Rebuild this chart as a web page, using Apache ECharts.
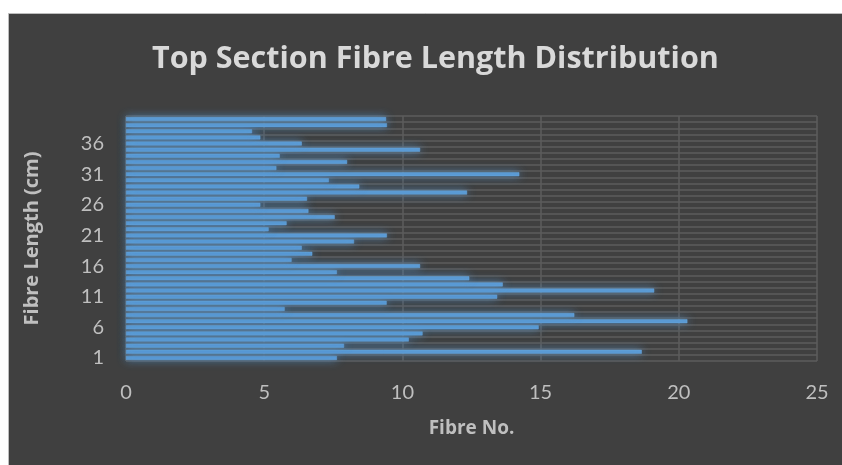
<!DOCTYPE html>
<html>
<head>
<meta charset="utf-8">
<script src="https://cdn.jsdelivr.net/npm/echarts@6/dist/echarts.min.js"></script>
<style>
  html, body { margin: 0; padding: 0; background: #ffffff; }
  #chart { width: 842px; height: 465px; }
</style>
</head>
<body>
<div id="chart"></div>
<script>
// Fibre lengths 1..40 cm (category axis)
const fibreLengths = Array.from({ length: 40 }, (_, i) => String(i + 1));

// Number of fibres counted at each length
const fibreCounts = [
  7.63, 18.66, 7.89, 10.23, 10.73, 14.93, 20.31, 16.22, 5.74, 9.43,
  13.43, 19.11, 13.63, 12.42, 7.63, 10.64, 5.99, 6.74, 6.36, 8.25,
  9.44, 5.16, 5.81, 7.55, 6.60, 4.86, 6.55, 12.34, 8.44, 7.34,
  14.23, 5.44, 8.00, 5.56, 10.64, 6.36, 4.86, 4.56, 9.44, 9.41
];

const titleText = 'Top Section Fibre Length Distribution';
const xAxisTitle = 'Fibre No.';
const yAxisTitle = 'Fibre Length (cm)';

const headFont = '"Open Sans", Lato, sans-serif';
const tickFont = 'Lato, "Open Sans", sans-serif';
const labelColor = '#bfbfbf';
const gridColor = '#5c5c5c';

const chart = echarts.init(document.getElementById('chart'), null, { renderer: 'canvas' });

chart.setOption({
  backgroundColor: '#ffffff',
  animation: false,
  graphic: [
    {
      type: 'rect',
      z: -10,
      silent: true,
      shape: { x: 8.5, y: 13.5, width: 840, height: 460 },
      style: { fill: '#404040', stroke: '#bdbdbd', lineWidth: 1 }
    }
  ],
  title: {
    text: titleText,
    left: 147,
    top: 39,
    textStyle: {
      color: '#d9d9d9',
      fontFamily: headFont,
      fontWeight: 'bold',
      fontSize: 30.5
    }
  },
  grid: {
    left: 126,
    right: 25,
    top: 116,
    bottom: 104,
    containLabel: false
  },
  xAxis: {
    type: 'value',
    min: 0,
    max: 25,
    interval: 5,
    name: xAxisTitle,
    nameLocation: 'middle',
    nameGap: 58,
    nameTextStyle: {
      color: labelColor,
      fontFamily: headFont,
      fontWeight: 'bold',
      fontSize: 19
    },
    axisLine: { show: false },
    axisTick: { show: false },
    axisLabel: {
      color: labelColor,
      fontFamily: tickFont,
      fontSize: 20,
      margin: 22
    },
    splitLine: { show: true, lineStyle: { color: gridColor, width: 1.5 } }
  },
  yAxis: {
    type: 'category',
    data: fibreLengths,
    name: yAxisTitle,
    nameLocation: 'middle',
    nameGap: 84,
    nameTextStyle: {
      color: labelColor,
      fontFamily: headFont,
      fontWeight: 'bold',
      fontSize: 20
    },
    axisLine: { show: false },
    axisTick: { show: false },
    axisLabel: {
      interval: 4,
      color: labelColor,
      fontFamily: tickFont,
      fontSize: 20,
      margin: 22
    },
    splitLine: {
      show: true,
      interval: 0,
      lineStyle: { color: gridColor, width: 1.5 }
    }
  },
  series: [
    {
      type: 'bar',
      data: fibreCounts,
      barWidth: 4,
      itemStyle: {
        color: '#5b9bd5',
        borderColor: '#6aa6dd',
        borderWidth: 0.5,
        shadowBlur: 10,
        shadowColor: 'rgba(91, 155, 213, 0.85)'
      }
    }
  ]
});
</script>
</body>
</html>
